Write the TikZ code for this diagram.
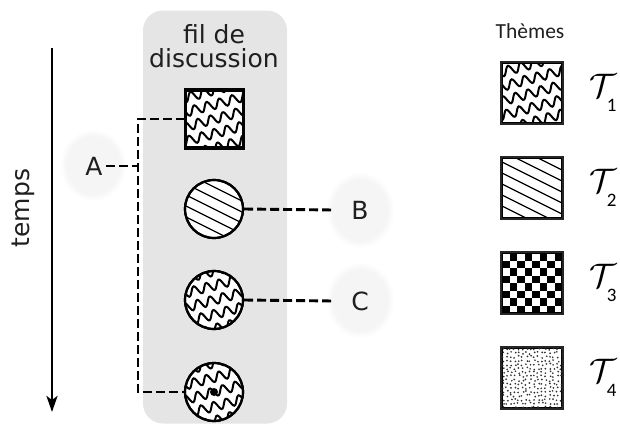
\documentclass[tikz,border=0pt]{standalone}
\usepackage{fix-cm}
\usepackage{fontspec}
\setmainfont{DejaVu Sans}
\newfontfamily\calfont{Carlito}
\usetikzlibrary{fadings,arrows.meta}
\tikzset{
  lbl/.style={font=\fontsize{25}{24}\selectfont, text=black!88},
  patshape/.style={fill=white, draw=black, line width=2.2pt, inner sep=0pt},
  psq/.style={patshape, rectangle, minimum size=57pt},
  pcirc/.style={patshape, circle, minimum size=58pt},
  legsq/.style={patshape, rectangle, minimum size=60pt, line width=1.8pt},
  outl/.style={draw=black, line width=2.2pt},
  legoutl/.style={draw=black!85, line width=1.8pt},
  link/.style={line width=2.9pt, dash pattern=on 9pt off 4pt, black},
  glow/.style={black!4, path fading=circle with fuzzy edge 20 percent},
  wavl/.style={line width=2pt},
  stripel/.style={line width=1.3pt},
}
\newcommand\wavepat[2]{%
  \begin{scope}[shift={(#1,#2)}, rotate=15]
    \foreach \r in {-5,...,5}
      \draw[wavl] plot[domain=-55:55, samples=100, smooth] (\x,{\r*14+4.5*sin(\x*27.6923)});
  \end{scope}}
\newcommand\stripepat[2]{%
  \begin{scope}[shift={(#1,#2)}]
    \foreach \k in {-9,...,9}
      \draw[stripel] (-50,{\k*11-25}) -- (50,{\k*11+25});
  \end{scope}}
\begin{document}
\begin{tikzpicture}[x=1pt,y=-1pt]
\useasboundingbox (0,0) rectangle (620,434);

% thread background
\node[fill=black!10, rounded corners=20pt, minimum width=144pt, minimum height=413pt, inner sep=0pt] (thr) at (215,217) {};
\node[lbl, align=center] (title) at (214,46) {fil de\\discussion};

% time arrow
\coordinate (ts) at (52,48);
\coordinate (te) at (52,412);
\draw[line width=2.6pt, -{Stealth[length=16pt,width=11pt,inset=4pt]}] (ts) -- (te);
\node[lbl, rotate=90] (temps) at (23,208) {temps};

% glows
\fill[glow] (60,129) rectangle (126,201);
\fill[glow] (326,172) rectangle (394,248);
\fill[glow] (326,262) rectangle (394,338);

% thread posts
\node[psq] (p1) at (214.5,119) {};
\node[pcirc] (p2) at (214,209) {};
\node[pcirc] (p3) at (214,300) {};
\node[pcirc] (p4) at (214,392) {};
\begin{scope}\clip (p1.south west) rectangle (p1.north east); \wavepat{214.5}{119}\end{scope}
\draw[outl] (p1.south west) rectangle (p1.north east);
\begin{scope}\clip (p2.center) circle (29); \stripepat{214}{209}\end{scope}
\draw[outl] (p2.center) circle (29);
\begin{scope}\clip (p3.center) circle (29); \wavepat{214}{300}\end{scope}
\draw[outl] (p3.center) circle (29);
\begin{scope}\clip (p4.center) circle (29); \wavepat{214}{392}\end{scope}
\draw[outl] (p4.center) circle (29);
\fill (p4.center) circle (4);

% labels
\node[lbl] (A) at (94,166) {A};
\node[lbl] (B) at (360,210) {B};
\node[lbl] (C) at (360,301) {C};

% connectors
\coordinate (brk) at (138,166);
\draw[link] (p1.west) -| (brk) |- (p4.west);
\draw[link] (A.east) -- (brk);
\draw[link] (p2.east) -- ([xshift=-14pt]B.west);
\draw[link] (p3.east) -- ([xshift=-14pt]C.west);

% legend
\node[font=\calfont\fontsize{21.5}{21}\selectfont, text=black!88] (themes) at (530,31) {Thèmes};
\node[legsq] (l1) at (532,93) {};
\node[legsq] (l2) at (532,188) {};
\node[legsq] (l3) at (532,283) {};
\node[legsq] (l4) at (532,378) {};
\begin{scope}\clip (l1.south west) rectangle (l1.north east); \wavepat{532}{93}\end{scope}
\draw[legoutl] (l1.south west) rectangle (l1.north east);
\begin{scope}\clip (l2.south west) rectangle (l2.north east); \stripepat{532}{188}\end{scope}
\draw[legoutl] (l2.south west) rectangle (l2.north east);
\begin{scope}
  \clip (l3.south west) rectangle (l3.north east);
  \foreach \i in {0,...,7}
    \foreach \j in {0,...,7}{
      \pgfmathtruncatemacro\mm{mod(\i+\j,2)}
      \ifnum\mm=1 \fill (502+\i*7.5,253+\j*7.5) rectangle ++(7.5,7.5); \fi
    }
\end{scope}
\draw[legoutl] (l3.south west) rectangle (l3.north east);
\begin{scope}
  \clip (l4.south west) rectangle (l4.north east);
  \pgfmathsetseed{11}
  \foreach \i in {0,...,15}
    \foreach \j in {0,...,15}
      \fill[black!80] ({503+\i*3.9+rand*1.2},{349+\j*3.9+rand*1.2}) circle (0.95);
\end{scope}
\draw[legoutl] (l4.south west) rectangle (l4.north east);

\foreach \n/\y in {1/93,2/188,3/283,4/378}{
  \node[font=\fontsize{34}{34}\selectfont, inner sep=0pt] (T\n) at (603,\y) {$\mathcal{T}$\hspace{-10pt}\raisebox{-14pt}{\calfont\fontsize{19}{19}\selectfont\n}};
}
\end{tikzpicture}
\end{document}
